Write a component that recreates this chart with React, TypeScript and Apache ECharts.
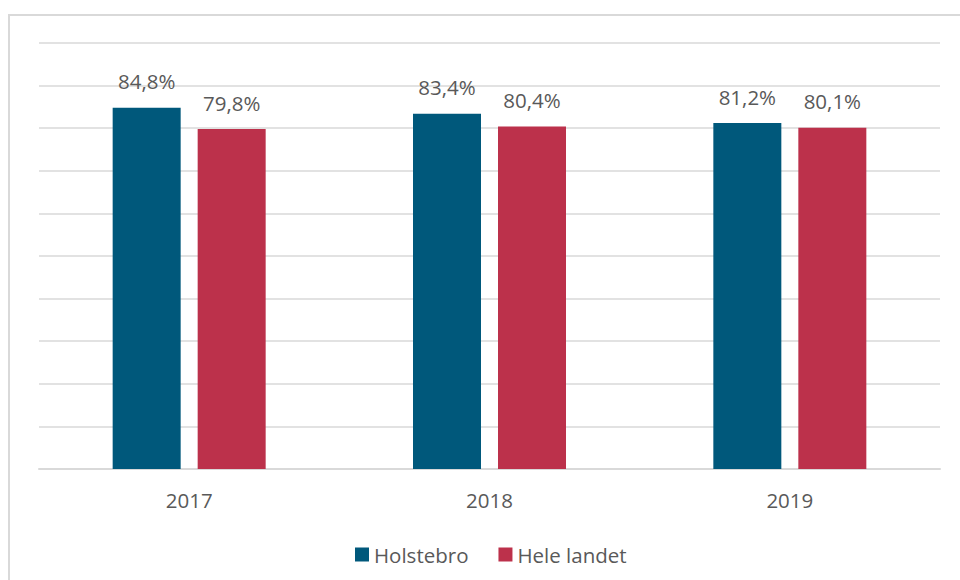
import React, { useEffect, useRef } from "react";
import * as echarts from "echarts";

const categories = ["2017", "2018", "2019"];
const holstebro = [84.8, 83.4, 81.2];
const heleLandet = [79.8, 80.4, 80.1];
const seriesNames = ["Holstebro", "Hele landet"];

const FONT = "'Open Sans', 'Noto Sans', sans-serif";
const TEXT = "#595959";
const FS = 20.5;

export default function App() {
  const ref = useRef<HTMLDivElement>(null);
  useEffect(() => {
    if (!ref.current) return;
    const chart = echarts.init(ref.current, null, { renderer: "svg" });
    const fmt = (p: any) => p.value.toFixed(1).replace(".", ",") + "%";
    const label = {
      show: true,
      position: "top",
      distance: 16,
      formatter: fmt,
      color: TEXT,
      fontSize: FS,
      fontFamily: FONT,
    };
    chart.setOption({
      animation: false,
      backgroundColor: "#ffffff",
      textStyle: { fontFamily: FONT },
      graphic: [
        {
          type: "rect",
          shape: { x: 9, y: 15, width: 980, height: 600 },
          style: { fill: "none", stroke: "#d9d9d9", lineWidth: 2 },
          silent: true,
        },
      ],
      grid: { left: 39, right: 20, top: 43, bottom: 111, containLabel: false },
      legend: {
        bottom: 10,
        left: 350,
        itemWidth: 14,
        itemHeight: 14,
        itemGap: 30,
        icon: "rect",
        textStyle: { color: TEXT, fontSize: FS, fontFamily: FONT },
        data: seriesNames,
      },
      xAxis: {
        type: "category",
        data: categories,
        axisLine: { show: true, lineStyle: { color: "#d9d9d9", width: 2 } },
        axisTick: { show: false },
        axisLabel: { color: TEXT, fontSize: FS, fontFamily: FONT, margin: 20 },
      },
      yAxis: {
        type: "value",
        min: 0,
        max: 100,
        interval: 10,
        axisLabel: { show: false },
        axisLine: { show: false },
        axisTick: { show: false },
        splitLine: { show: true, lineStyle: { color: "#d9d9d9", width: 1.5 } },
      },
      series: [
        {
          name: seriesNames[0],
          type: "bar",
          data: holstebro,
          barWidth: 68,
          barGap: "25%",
          itemStyle: { color: "#00587b" },
          label,
        },
        {
          name: seriesNames[1],
          type: "bar",
          data: heleLandet,
          barWidth: 68,
          barGap: "25%",
          itemStyle: { color: "#bc314b" },
          label,
        },
      ],
    });
    return () => chart.dispose();
  }, []);
  return <div ref={ref} style={{ width: 960, height: 580, position: "absolute", left: 0, top: 0 }} />;
}
